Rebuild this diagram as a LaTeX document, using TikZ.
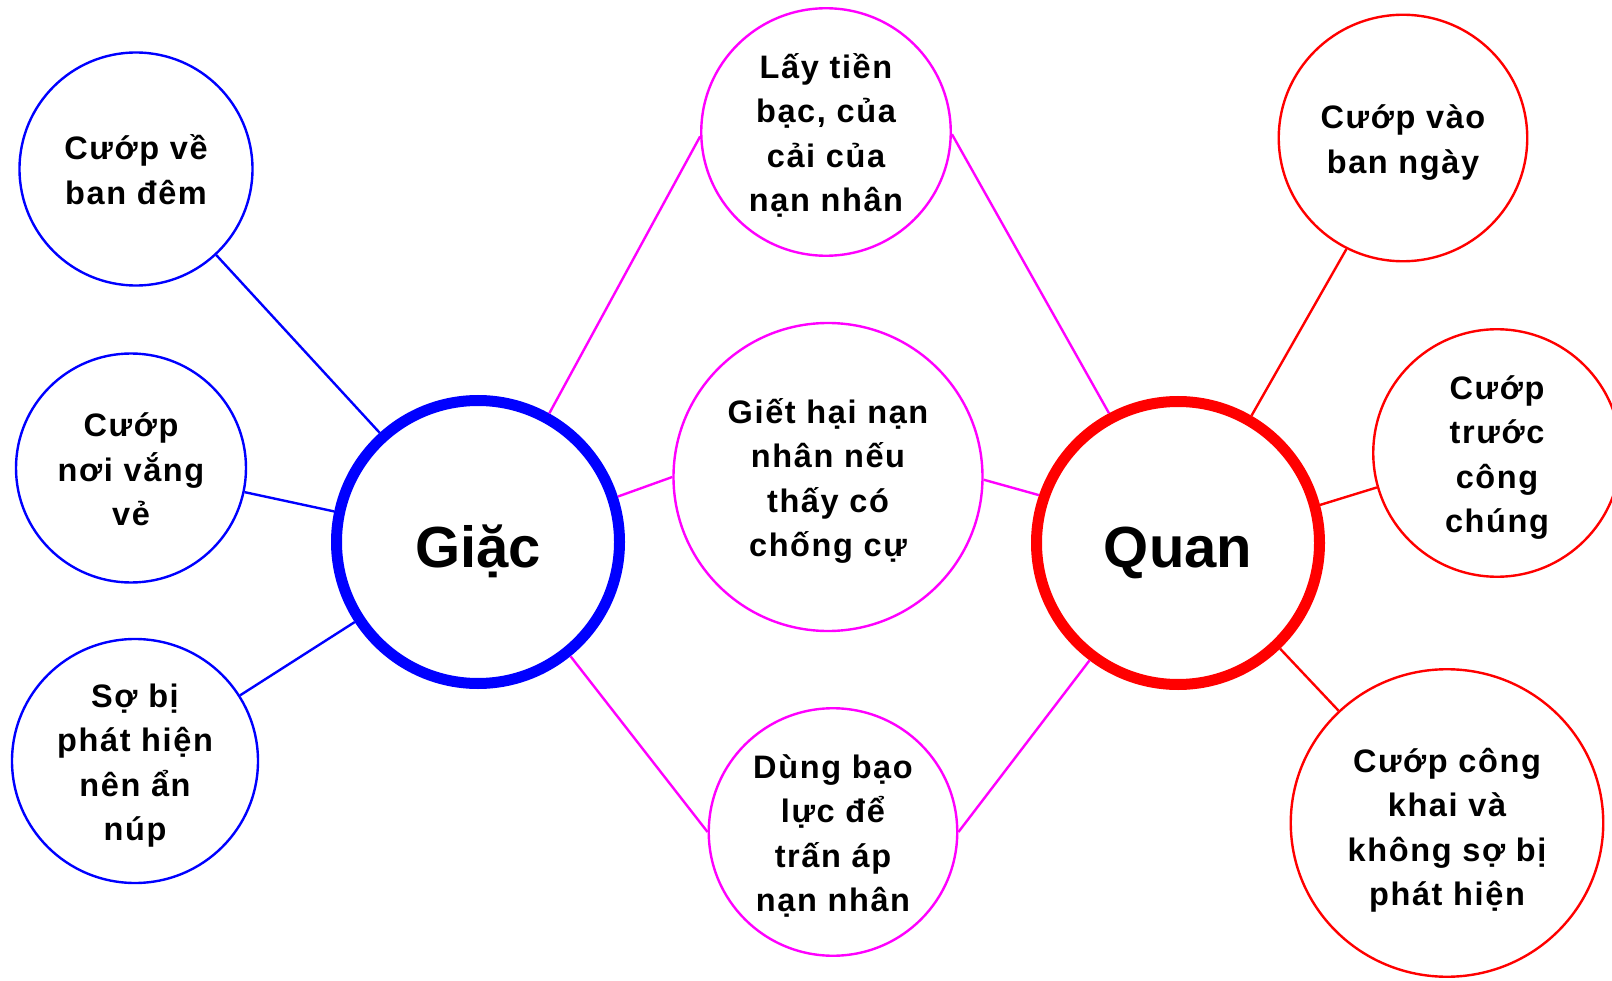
\documentclass[tikz,border=0pt]{standalone}
\usepackage{fontspec}
\setmainfont{Liberation Sans}
\newfontfamily\smallf[LetterSpace=5]{Liberation Sans}
\newfontfamily\bigf{Liberation Sans}
\usetikzlibrary{shapes.geometric}
\definecolor{cblue}{RGB}{0,0,255}
\definecolor{cmag}{RGB}{255,0,255}
\definecolor{cred}{RGB}{255,0,0}
\newcommand\ts{\rule[-0.25em]{0pt}{1.3em}}
\tikzset{
  bub/.style={ellipse, draw=#1, line width=2.4pt, fill=white, inner sep=0pt},
  hub/.style={circle, draw=#1, line width=11pt, fill=white, inner sep=0pt, minimum size=283pt},
  txt/.style={align=center, inner sep=0pt, font=\smallf\bfseries\fontsize{32.5}{44.5}\selectfont},
  bigtxt/.style={anchor=base, inner sep=0pt, font=\bigf\bfseries\fontsize{58}{66}\selectfont},
  link/.style={draw=#1, line width=2.4pt}
}
\begin{document}
\begin{tikzpicture}[x=1pt,y=-1pt]
\useasboundingbox (0,0) rectangle (1612,981);
% nodes
\node[hub=cblue] (g) at (478,542) {};
\node[hub=cred] (q) at (1178,543) {};
\node[bub=cblue, minimum width=233pt, minimum height=233pt] (tl) at (136,169) {};
\node[bub=cblue, minimum width=230pt, minimum height=229pt] (lm) at (131,468) {};
\node[bub=cblue, minimum width=246pt, minimum height=244pt] (lb) at (135,761) {};
\node[bub=cmag, minimum width=249.5pt, minimum height=247.5pt] (mt) at (826,132) {};
\node[bub=cmag, minimum width=309pt, minimum height=308pt] (mc) at (828,477) {};
\node[bub=cmag, minimum width=248.5pt, minimum height=247.5pt] (mb) at (833,832) {};
\node[bub=cred, minimum width=248.5pt, minimum height=246.5pt] (rt) at (1403,138) {};
\node[bub=cred, minimum width=247.5pt, minimum height=247.5pt] (rm) at (1497,453) {};
\node[bub=cred, minimum width=312.5pt, minimum height=307.5pt] (rb) at (1447,823) {};
% connectors
\draw[link=cblue] (tl.-47) -- (g.132.6);
\draw[link=cblue] (lm.-12.2) -- (g.168.3);
\draw[link=cblue] (lb.32.3) -- (g.213);
\draw[link=cmag] (g.61) -- (mt.182.3);
\draw[link=cmag] (g.18.2) -- (mc.180.7);
\draw[link=cmag] (g.-51.7) -- (mb.180);
\draw[link=cmag] (mt.-1.3) -- (q.118.6);
\draw[link=cmag] (mc.-1.1) -- (q.161.6);
\draw[link=cmag] (mb.0) -- (q.233.1);
\draw[link=cred] (q.60.4) -- (rt.243);
\draw[link=cred] (q.15.2) -- (rm.196.9);
\draw[link=cred] (q.-46.3) -- (rb.134);
% texts
\node[bigtxt] (gt) at ([yshift=-25pt]g.center) {Giặc};
\node[bigtxt] (qt) at ([yshift=-24pt]q.center) {Quan};
\node[txt] (tlt) at (tl.center) {\ts Cướp về\\\ts ban đêm};
\node[txt] (lmt) at (lm.center) {\ts Cướp\\\ts nơi vắng\\\ts vẻ};
\node[txt] (lbt) at (lb.center) {\ts Sợ bị\\\ts phát hiện\\\ts nên ẩn\\\ts núp};
\node[txt] (mtt) at (mt.center) {\ts Lấy tiền\\\ts bạc, của\\\ts cải của\\\ts nạn nhân};
\node[txt] (mct) at (mc.center) {\ts Giết hại nạn\\\ts nhân nếu\\\ts thấy có\\\ts chống cự};
\node[txt] (mbt) at (mb.center) {\ts Dùng bạo\\\ts lực để\\\ts trấn áp\\\ts nạn nhân};
\node[txt] (rtt) at (rt.center) {\ts Cướp vào\\\ts ban ngày};
\node[txt] (rmt) at (rm.center) {\ts Cướp\\\ts trước\\\ts công\\\ts chúng};
\node[txt] (rbt) at ([yshift=-3pt]rb.center) {\ts Cướp công\\\ts khai và\\\ts không sợ bị\\\ts phát hiện};
\end{tikzpicture}
\end{document}
